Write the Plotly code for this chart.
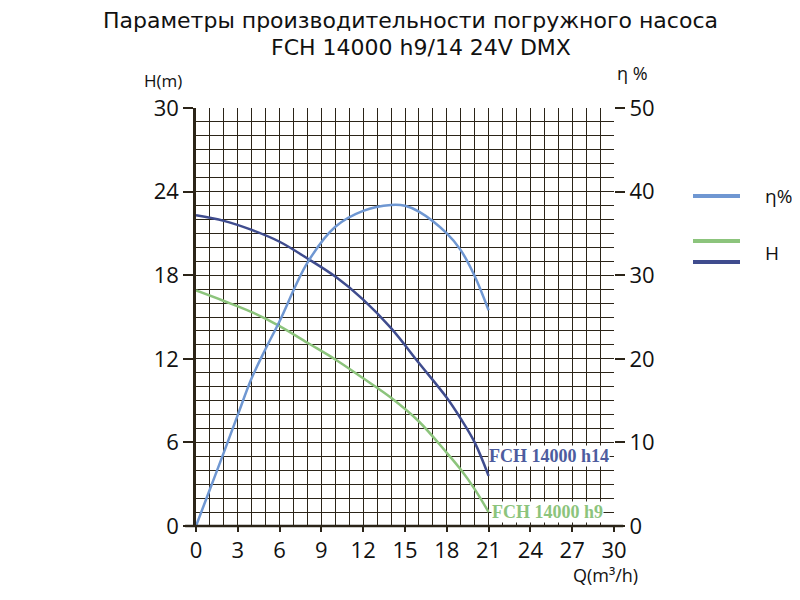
import plotly.graph_objects as go

# ---- data ----
q_h14 = [0, 2, 4, 6, 8, 10, 12, 14, 16, 18, 19, 20, 21]
h_h14 = [22.3, 21.9, 21.25, 20.4, 19.2, 17.9, 16.25, 14.2, 11.7, 9.2, 7.7, 6.0, 3.6]

q_h9 = [0, 2, 4, 6, 8, 10, 12, 14, 16, 18, 19, 20, 21]
h_h9 = [16.9, 16.15, 15.35, 14.35, 13.15, 11.95, 10.6, 9.2, 7.5, 5.25, 4.05, 2.65, 1.0]

q_eta = [0, 1, 2, 3, 4, 5, 6, 8, 10, 12, 14, 15, 16, 18, 19, 20, 21]
eta = [0, 4.4, 8.8, 13.3, 17.7, 21.2, 24.5, 31.5, 35.8, 37.7, 38.4, 38.3, 37.6, 35.0, 33.0, 29.9, 25.8]

x_ticks = [0, 3, 6, 9, 12, 15, 18, 21, 24, 27, 30]
h_ticks = [0, 6, 12, 18, 24, 30]
eta_ticks = [0, 10, 20, 30, 40, 50]

label_h14 = "FCH 14000 h14"
label_h9 = "FCH 14000 h9"

C_ETA = "#6f97d2"
C_H14 = "#3f4c8e"
C_H9 = "#8cc47c"
GRID = "#2b2418"

fig = go.Figure()
fig.add_trace(go.Scatter(x=q_eta, y=eta, mode="lines", yaxis="y2",
                         line=dict(color=C_ETA, width=2.5, shape="spline"), showlegend=False))
fig.add_trace(go.Scatter(x=q_h9, y=h_h9, mode="lines",
                         line=dict(color=C_H9, width=2.5, shape="spline"), showlegend=False))
fig.add_trace(go.Scatter(x=q_h14, y=h_h14, mode="lines",
                         line=dict(color=C_H14, width=2.5, shape="spline"), showlegend=False))

tickfont = dict(family="Open Sans", size=22, color="#111111")

fig.update_layout(
    width=800, height=600,
    paper_bgcolor="white", plot_bgcolor="white",
    margin=dict(l=188, r=194, t=100, b=82),
    xaxis=dict(range=[0, 30], tickvals=x_ticks, ticks="outside", ticklen=5, tickwidth=1.5,
               tickcolor=GRID, showline=False, zeroline=False,
               showgrid=True, gridcolor=GRID, gridwidth=1.3,
               minor=dict(dtick=1, showgrid=True, gridcolor=GRID, gridwidth=1.3),
               tickfont=tickfont, ticklabelstandoff=0),
    yaxis=dict(range=[0, 30], tickvals=h_ticks, ticks="outside", ticklen=10, tickwidth=1.5,
               tickcolor=GRID, showline=True, linecolor=GRID, linewidth=2.5, zeroline=False,
               showgrid=True, gridcolor=GRID, gridwidth=1.3,
               minor=dict(dtick=1, showgrid=True, gridcolor=GRID, gridwidth=1.3),
               tickfont=tickfont),
    yaxis2=dict(range=[0, 50], tickvals=eta_ticks, overlaying="y", side="right",
                ticks="outside", ticklen=10, tickwidth=1.5, tickcolor=GRID,
                showline=False, showgrid=False, zeroline=False, tickfont=tickfont),
)

# bottom axis line extending beyond plot
fig.add_shape(type="line", xref="paper", yref="paper", x0=-0.026, x1=1.022, y0=0, y1=0,
              line=dict(color=GRID, width=2.5))

# curve labels anchored at the curve ends
fig.add_annotation(x=q_h14[-1], y=h_h14[-1] + 1.4, text="<b>" + label_h14 + "</b>", showarrow=False,
                   xanchor="left", yanchor="middle", xshift=-1,
                   font=dict(family="Liberation Serif", size=18, color="#4d5c9e"), bgcolor="white",
                   borderpad=0)
fig.add_annotation(x=q_h9[-1], y=h_h9[-1], text="<b>" + label_h9 + "</b>", showarrow=False,
                   xanchor="left", yanchor="middle", xshift=2,
                   font=dict(family="Liberation Serif", size=18, color=C_H9), bgcolor="white",
                   borderpad=0)

# titles
fig.add_annotation(xref="paper", yref="paper", x=(410 - 196) / 418, y=1 + (108 - 20) / 418,
                   text="Параметры производительности погружного насоса", showarrow=False,
                   xanchor="center", yanchor="middle",
                   font=dict(family="DejaVu Sans", size=22, color="#111111"))
fig.add_annotation(xref="paper", yref="paper", x=(421 - 196) / 418, y=1 + (108 - 47) / 418,
                   text="FCH 14000 h9/14 24V DMX", showarrow=False,
                   xanchor="center", yanchor="middle",
                   font=dict(family="DejaVu Sans", size=22, color="#111111"))

# axis labels
fig.add_annotation(xref="paper", yref="paper", x=(163 - 196) / 418, y=1 + (108 - 80) / 418,
                   text="H(m)", showarrow=False, xanchor="center", yanchor="middle",
                   font=dict(family="Open Sans", size=17, color="#111111"))
fig.add_annotation(xref="paper", yref="paper", x=(632 - 196) / 418, y=1 + (108 - 73) / 418,
                   text="η %", showarrow=False, xanchor="center", yanchor="middle",
                   font=dict(family="Open Sans", size=18, color="#111111"))
fig.add_annotation(xref="paper", yref="paper", x=(605 - 196) / 418, y=-(575 - 526) / 418,
                   text="Q(m³/h)", showarrow=False, xanchor="center", yanchor="middle",
                   font=dict(family="Open Sans", size=18, color="#111111"))

# legend
def px_x(p):
    return (p - 196) / 418

def px_y(p):
    return (526 - p) / 418

for y_px, col in [(196, C_ETA), (241, C_H9), (262, C_H14)]:
    fig.add_shape(type="line", xref="paper", yref="paper", x0=px_x(693), x1=px_x(740),
                  y0=px_y(y_px), y1=px_y(y_px), line=dict(color=col, width=4))
fig.add_annotation(xref="paper", yref="paper", x=px_x(763), y=px_y(196), text="η%",
                   showarrow=False, xanchor="left", yanchor="middle",
                   font=dict(family="Open Sans", size=19, color="#111111"))
fig.add_annotation(xref="paper", yref="paper", x=px_x(763), y=px_y(253), text="H",
                   showarrow=False, xanchor="left", yanchor="middle",
                   font=dict(family="Open Sans", size=19, color="#111111"))

fig.write_html("out.html")
